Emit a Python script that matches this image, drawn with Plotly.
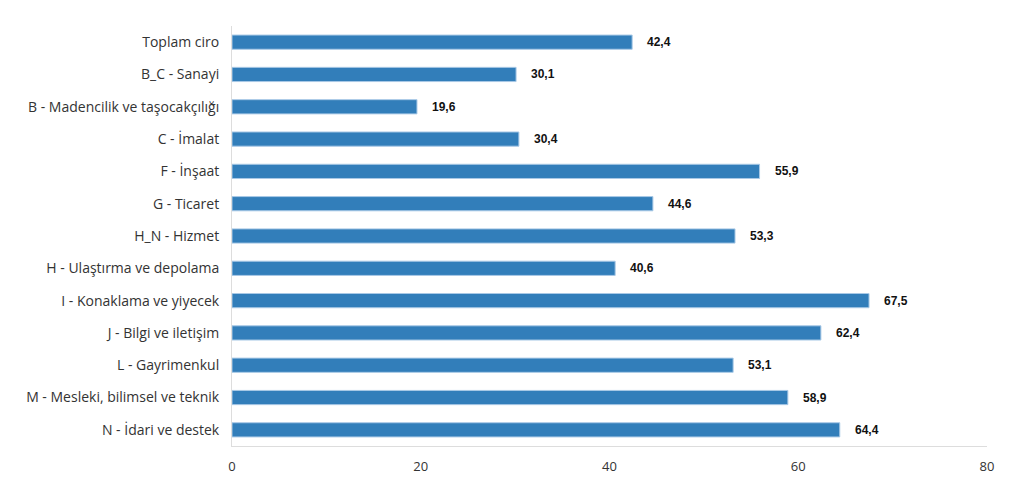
import plotly.graph_objects as go

categories = [
    "Toplam ciro",
    "B_C - Sanayi",
    "B - Madencilik ve taşocakçılığı",
    "C - İmalat",
    "F - İnşaat",
    "G - Ticaret",
    "H_N - Hizmet",
    "H - Ulaştırma ve depolama",
    "I - Konaklama ve yiyecek",
    "J - Bilgi ve iletişim",
    "L - Gayrimenkul",
    "M - Mesleki, bilimsel ve teknik",
    "N - İdari ve destek",
]
values = [42.4, 30.1, 19.6, 30.4, 55.9, 44.6, 53.3, 40.6, 67.5, 62.4, 53.1, 58.9, 64.4]
value_labels = [f"{v:.1f}".replace(".", ",") for v in values]
x_ticks = [0, 20, 40, 60, 80]

fig = go.Figure()
fig.add_trace(go.Bar(
    y=categories,
    x=values,
    orientation="h",
    marker=dict(color="#327EBA", line=dict(color="#A9C9E6", width=1)),
    hoverinfo="x+y",
))

for c, v, t in zip(categories, values, value_labels):
    fig.add_annotation(
        x=v, y=c, text=f"<b>{t}</b>", showarrow=False,
        xanchor="left", xshift=13,
        font=dict(family="Liberation Sans, Arial", size=12, color="#111111"),
    )

fig.update_layout(
    width=1008, height=470,
    margin=dict(l=224, r=29, t=18, b=32, autoexpand=False),
    paper_bgcolor="white", plot_bgcolor="white",
    bargap=0.56,
    showlegend=False,
    font=dict(family="Open Sans, Noto Sans", size=14, color="#333333"),
)
fig.update_xaxes(
    range=[0, 80], tickvals=x_ticks, showgrid=False, zeroline=False,
    showline=True, linecolor="#DDDDDD", linewidth=1, automargin=False,
    ticks="outside", ticklen=8, tickcolor="rgba(0,0,0,0)",
    tickfont=dict(size=13, color="#333333"),
)
fig.update_yaxes(
    autorange="reversed", showgrid=False, zeroline=False, automargin=False,
    showline=True, linecolor="#DDDDDD", linewidth=1,
    ticks="outside", ticklen=9, tickcolor="rgba(0,0,0,0)",
    tickfont=dict(size=14, color="#333333"),
)

fig.write_html("out.html")
